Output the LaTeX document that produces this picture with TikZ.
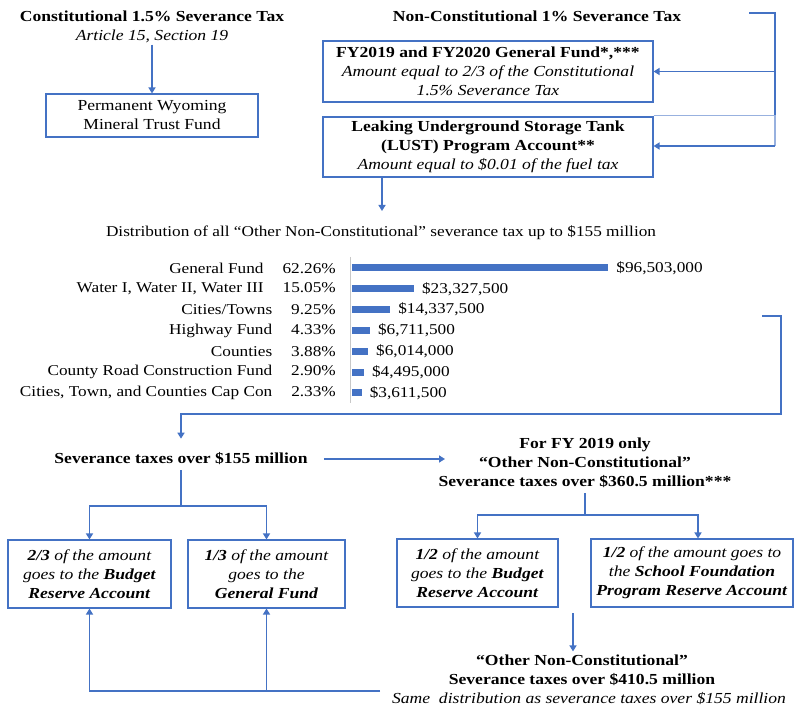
\documentclass[tikz,border=0pt]{standalone}
\usepackage{fontspec}
\setmainfont[FakeStretch=1.15]{Liberation Serif}
\usetikzlibrary{arrows.meta,calc}
\definecolor{bl}{RGB}{68,114,196}
\definecolor{axisgray}{RGB}{200,200,200}
\begin{document}
\begin{tikzpicture}[x=1pt,y=-1pt,
  every node/.style={font=\fontsize{15.3}{19}\selectfont, inner sep=0pt},
  txt/.style={align=center},
  hd/.style={align=center,font=\fontsize{15.3}{19}\selectfont\bfseries},
  boxn/.style={draw=bl, line width=1.1pt, align=center},
  chart/.style={font=\fontsize{15}{18}\selectfont},
  ln/.style={draw=bl, line width=1.5pt},
  arr/.style={ln, -{Triangle[length=6pt,width=7pt]}},
]
\useasboundingbox[fill=white] (0,0) rectangle (795,708);

% ---- top left
\node[txt] (hC) at (152,26.5) {\textbf{Constitutional 1.5\% Severance Tax}\\\textit{Article 15, Section 19}};
\node[boxn, minimum width=212pt, minimum height=43pt] (pwm) at (152,115.5) {Permanent Wyoming\\Mineral Trust Fund};
\draw[arr, shorten <=2pt] (hC.south) -- (pwm.north);

% ---- top right
\node[hd] (hN) at (537,16) {Non-Constitutional 1\% Severance Tax};
\node[boxn, minimum width=330pt, minimum height=61pt] (fy) at (488,71.5)
  {\textbf{FY2019 and FY2020 General Fund*,***}\\\textit{Amount equal to 2/3 of the Constitutional}\\\textit{1.5\% Severance Tax}};
\node[boxn, minimum width=330pt, minimum height=60pt] (lust) at (488,147)
  {\textbf{Leaking Underground Storage Tank}\\\textbf{(LUST) Program Account**}\\\textit{Amount equal to \$0.01 of the fuel tax}};
\coordinate (nt) at (749,13);
\coordinate (r1) at (775,13);
\coordinate (lne) at ([yshift=1pt]lust.north east);
\coordinate (rm) at (r1 |- lne);
\coordinate (r2) at (775,146);
\draw[ln] (nt) -- (r1) -- (rm);
\draw[draw=bl!55, line width=1.2pt] (lne) -- (rm) -- (r2);
\draw[arr] (r1 |- fy) -- (fy);
\draw[arr] (r2) -- (r2 -| lust.east);
\coordinate (d1) at (382,211);
\draw[arr] (lust.south -| d1) -- (d1);

% ---- chart
\node[chart] (dist) at (381,233) {Distribution of all “Other Non-Constitutional” severance tax up to \$155 million};
\draw[axisgray, line width=0.9pt] (350,257) -- (350,403);
\foreach \i/\name/\pct/\val/\len in {
  1/General Fund/62.26\%/\$96{,}503{,}000/256.2,
  2/{Water I, Water II, Water III}/15.05\%/\$23{,}327{,}500/61.9,
  3/Cities\slash Towns/9.25\%/\$14{,}337{,}500/38.1,
  4/Highway Fund/4.33\%/\$6{,}711{,}500/17.8,
  5/Counties/3.88\%/\$6{,}014{,}000/16.0,
  6/County Road Construction Fund/2.90\%/\$4{,}495{,}000/11.9,
  7/{Cities, Town, and Counties Cap Con}/2.33\%/\$3{,}611{,}500/9.6} {
  \pgfmathsetmacro{\yy}{268+20.83*(\i-1)}
  \node[chart, anchor=east] (lab\i) at (336,\yy) {\name\hspace{19pt}\pct};
  \fill[bl] (352,\yy-3.5) rectangle (352+\len,\yy+3.5);
  \node[chart, anchor=west] (val\i) at (360+\len,\yy) {\val};
}

% ---- connector from chart to over 155
\coordinate (ch1) at (762,316);
\coordinate (ch2) at (781,316);
\coordinate (ch3) at (781,414);
\node[hd] (sv155) at (181,459) {Severance taxes over \$155 million};
\draw[arr, shorten >=14pt] (ch1) -- (ch2) -- (ch3) -| (sv155.north);

% ---- FY 2019 block
\node[hd] (fyb) at (585,463) {For FY 2019 only\\“Other Non-Constitutional”\\Severance taxes over \$360.5 million***};
\coordinate (fyarr) at (445,458);
\draw[arr, shorten <=16pt] (sv155.east) -- (sv155.east -| fyarr);

% ---- left tree
\node[boxn, minimum width=163pt, minimum height=68pt] (bA) at (89.5,574)
  {\textit{\textbf{2/3} of the amount}\\\textit{goes to the \textbf{Budget}}\\\textit{\textbf{Reserve Account}}};
\node[boxn, minimum width=157pt, minimum height=68pt] (bB) at (266.5,574)
  {\textit{\textbf{1/3} of the amount}\\\textit{goes to the}\\\textit{\textbf{General Fund}}};
\coordinate (lt) at (181,506);
\draw[ln, shorten <=5pt] (sv155.south) -- (lt);
\draw[arr] (lt) -| (bA.north);
\draw[arr] (lt) -| (bB.north);

% ---- right tree
\node[boxn, minimum width=161pt, minimum height=68pt] (bC) at (477.5,573)
  {\textit{\textbf{1/2} of the amount}\\\textit{goes to the \textbf{Budget}}\\\textit{\textbf{Reserve Account}}};
\node[boxn, minimum width=202pt, minimum height=68pt] (bD) at (692,573)
  {\textit{\textbf{1/2} of the amount goes to}\\\textit{the \textbf{School Foundation}}\\\textit{\textbf{Program Reserve Account}}};
\coordinate (rt) at (585,515);
\draw[ln, shorten <=5pt] (fyb.south) -- (rt);
\draw[arr] (rt) -| (bC.north);
\draw[arr] (rt) -| ([xshift=6pt]bD.north);

% ---- bottom block
\node[hd] (onc) at (582,670) {“Other Non-Constitutional”\\Severance taxes over \$410.5 million};
\node[txt] (same) at (589,699) {\textit{Same\ \ distribution as severance taxes over \$155 million}};
\coordinate (ds) at (573,613);
\draw[arr, shorten >=3pt] (ds) -- (ds |- onc.north);

\coordinate (bl) at (380,691);
\draw[arr] (bl) -| (bA.south);
\draw[arr] (bB |- bl) -- (bB.south);
\end{tikzpicture}
\end{document}
